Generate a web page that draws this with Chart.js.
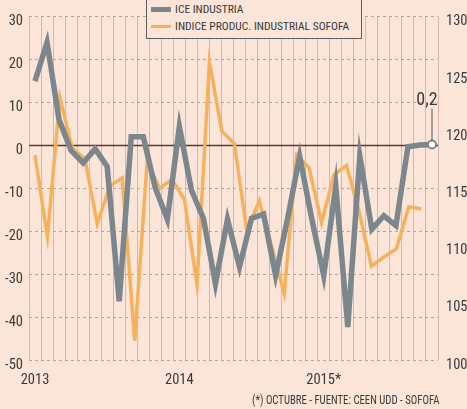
<!DOCTYPE html>
<html>
<head>
<meta charset="utf-8">
<script src="https://cdn.jsdelivr.net/npm/chart.js@4.4.0/dist/chart.umd.min.js"></script>
<style>
  html, body { margin: 0; padding: 0; background: #fbe4d8; }
  #marco { position: relative; width: 467px; height: 409px; overflow: hidden; }
  #grafico { position: absolute; left: 0; top: 0; }
  .angosta { font-family: 'Roboto', sans-serif; font-stretch: condensed; color: #3a3a3a; }
  #leyenda { position: absolute; left: 146px; top: -6px; width: 216px; height: 45px; box-sizing: border-box;
             border: 1px solid #5e5e5e; background: #fbe4d8; font-size: 11.5px; }
  #leyenda div { position: absolute; left: 4px; height: 14px; line-height: 14px; white-space: nowrap; }
  #leyenda span.muestra { display: inline-block; width: 20px; vertical-align: middle; margin-right: 4px; }
  #pie { position: absolute; left: 252px; top: 392px; font-size: 12.5px; white-space: nowrap;
         transform: scaleX(0.86); transform-origin: left center; }
</style>
</head>
<body>
<div id="marco">
  <canvas id="grafico" width="467" height="409"></canvas>
  <div id="leyenda" class="angosta"></div>
  <div id="pie" class="angosta">(*) OCTUBRE - FUENTE: CEEN UDD - SOFOFA</div>
</div>
<script>
// Meses: enero 2013 a octubre 2015
const meses = ['ene-13','feb-13','mar-13','abr-13','may-13','jun-13','jul-13','ago-13','sep-13','oct-13','nov-13','dic-13',
               'ene-14','feb-14','mar-14','abr-14','may-14','jun-14','jul-14','ago-14','sep-14','oct-14','nov-14','dic-14',
               'ene-15','feb-15','mar-15','abr-15','may-15','jun-15','jul-15','ago-15','sep-15','oct-15'];

// Etiquetas de año en el eje X (posición del mes -> texto)
const etiquetasAnio = { 0: '2013', 12: '2014', 24: '2015*' };

// ICE Industria (eje izquierdo)
const iceIndustria = [15, 24, 6, -1.2, -4.1, -0.8, -4.9, -36.3, 2, 2, -9.9, -17.2,
                      4.4, -10.4, -17, -32.2, -17.2, -28.3, -17, -16, -30.3, -17, -2.5, -17,
                      -30.3, -9.5, -42.3, -2.5, -19.5, -16.4, -18.7, -0.3, 0.1, 0.2];

// Índice producción industrial Sofofa (eje derecho)
const sofofa = [117.9, 110.8, 122.9, 118.5, 117.6, 111.9, 115.2, 115.9, 101.7, 117.3, 115.0, 115.8,
                114.0, 106.6, 126.0, 120.0, 118.9, 111.3, 113.9, 109.9, 105.8, 117.9, 116.8, 112.0,
                116.2, 117.0, 113.0, 108.2, 109.0, 109.7, 113.4, 113.2];

const ticksIzq = [-50, -40, -30, -20, -10, 0, 10, 20, 30];
const ticksDer = [100, 105, 110, 115, 120, 125, 130];

const colorIce = '#7b878c';
const colorSofofa = '#f6b15c';
const fuente = "'Roboto', sans-serif";
const fuenteEje = { family: fuente, size: 14.5, weight: 'condensed' }; // 'condensed' entra en la cadena font del canvas

// Leyenda en HTML
const leyenda = document.getElementById('leyenda');
[['ICE INDUSTRIA', colorIce, 5, 8], ['INDICE PRODUC. INDUSTRIAL SOFOFA', colorSofofa, 3, 25]].forEach(([txt, col, grosor, yc]) => {
  const fila = document.createElement('div');
  fila.style.top = (yc + 6 - 7) + 'px';
  fila.innerHTML = `<span class="muestra" style="height:${grosor}px;background:${col}"></span>${txt}`;
  leyenda.appendChild(fila);
});

// Línea del cero y rótulo del último valor
const extras = {
  id: 'extras',
  beforeDatasetsDraw(chart) {
    const { ctx, chartArea, scales } = chart;
    const y0 = scales.y.getPixelForValue(0);
    ctx.save();
    ctx.strokeStyle = '#5b3a2e';
    ctx.lineWidth = 1.5;
    ctx.beginPath();
    ctx.moveTo(chartArea.left, y0);
    ctx.lineTo(chartArea.right, y0);
    ctx.stroke();
    ctx.restore();
  },
  afterDatasetsDraw(chart) {
    const { ctx } = chart;
    const meta = chart.getDatasetMeta(0);
    const p = meta.data[meta.data.length - 1];
    const valor = iceIndustria[iceIndustria.length - 1];
    ctx.save();
    ctx.strokeStyle = '#555';
    ctx.lineWidth = 1;
    ctx.beginPath();
    ctx.moveTo(p.x, p.y - 4);
    ctx.lineTo(p.x, p.y - 36);
    ctx.stroke();
    ctx.fillStyle = '#3a3a3a';
    ctx.font = 'condensed 18px ' + fuente;
    ctx.textAlign = 'center';
    ctx.textBaseline = 'alphabetic';
    ctx.fillText(String(valor).replace('.', ','), p.x - 5, p.y - 40);
    ctx.restore();
  }
};

new Chart(document.getElementById('grafico'), {
  type: 'line',
  data: {
    labels: meses,
    datasets: [{
      label: 'ICE INDUSTRIA',
      data: iceIndustria,
      borderColor: colorIce,
      borderWidth: 5.5,
      tension: 0,
      yAxisID: 'y',
      pointRadius: ctx => ctx.dataIndex === iceIndustria.length - 1 ? 4 : 0,
      pointBackgroundColor: '#ffffff',
      pointBorderColor: colorIce,
      pointBorderWidth: 2
    }, {
      label: 'INDICE PRODUC. INDUSTRIAL SOFOFA',
      data: sofofa.map((v, i) => ({ x: i, y: v })),
      borderColor: colorSofofa,
      borderWidth: 3.5,
      tension: 0,
      pointRadius: 0,
      xAxisID: 'x2',
      yAxisID: 'y2'
    }]
  },
  options: {
    responsive: false,
    animation: false,
    layout: { padding: { top: 15, left: 0, right: 0, bottom: 0 } },
    plugins: { legend: { display: false }, tooltip: { enabled: false } },
    scales: {
      x: {
        type: 'category',
        offset: true,
        grid: { color: '#d5b8ab', lineWidth: 1, offset: true, drawTicks: false },
        border: { display: false },
        afterFit: s => { s.height = 49; },
        ticks: {
          autoSkip: false, maxRotation: 0, padding: 12,
          color: '#3a3a3a', font: fuenteEje,
          callback: (v, i) => etiquetasAnio[i] || ''
        }
      },
      x2: {
        type: 'linear',
        display: false,
        min: -0.48,
        max: 32.34
      },
      y: {
        position: 'left',
        min: -50, max: 30,
        afterFit: s => { s.width = 29; },
        afterBuildTicks: s => { s.ticks = ticksIzq.map(v => ({ value: v })); },
        grid: { color: '#bfa194', lineWidth: 1, drawTicks: false },
        border: { display: false, dash: [3, 3] },
        ticks: { padding: 6, labelOffset: 5, color: '#3a3a3a', font: fuenteEje }
      },
      y2: {
        position: 'right',
        min: 100, max: 130,
        afterFit: s => { s.width = 29; },
        afterBuildTicks: s => { s.ticks = ticksDer.map(v => ({ value: v })); },
        grid: { display: false, drawTicks: false },
        border: { display: false },
        ticks: { padding: 8, labelOffset: 5, color: '#3a3a3a', font: fuenteEje }
      }
    }
  },
  plugins: [extras]
});
</script>
</body>
</html>
